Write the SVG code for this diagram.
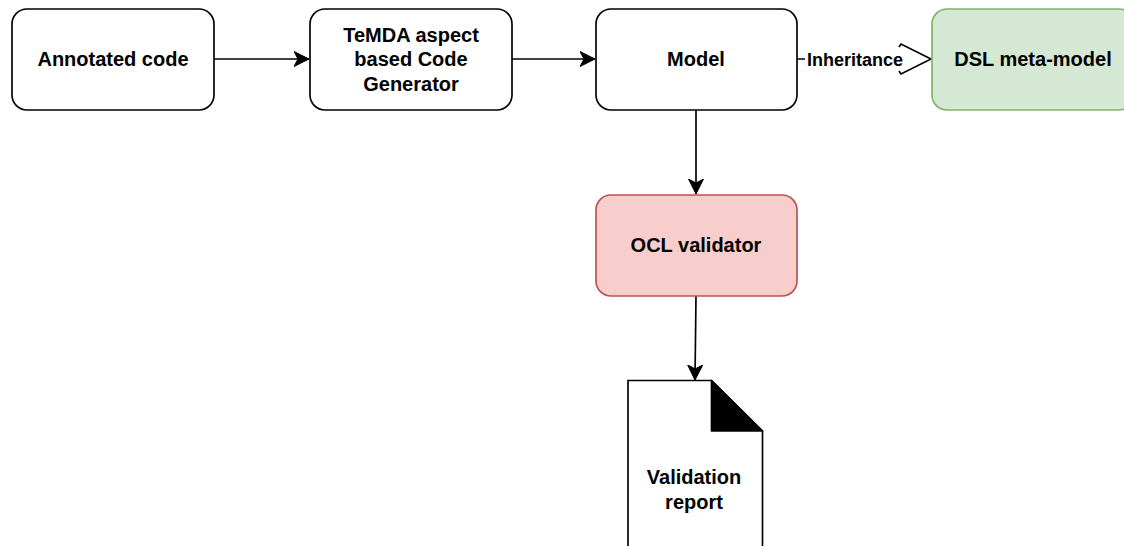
<svg xmlns="http://www.w3.org/2000/svg" width="1124" height="546" viewBox="0 0 1124 546">
  <defs>
    <style>
      .box { fill: #ffffff; stroke: #000000; stroke-width: 1.67; }
      .green { fill: #d5e8d4; stroke: #82b366; }
      .red { fill: #f8cecc; stroke: #b85450; }
      .label { font-family: "Liberation Sans", Arial, sans-serif; font-size: 20px; font-weight: bold; fill: #000000; text-anchor: middle; }
      .edge-label { font-family: "Liberation Sans", Arial, sans-serif; font-size: 18px; font-weight: bold; fill: #000000; text-anchor: middle; }
      .edge { fill: none; stroke: #000000; stroke-width: 1.67; }
    </style>
    <marker id="classic" viewBox="0 0 16 16" refX="15" refY="8" markerWidth="16" markerHeight="16" markerUnits="userSpaceOnUse" orient="auto">
      <path d="M15,8 L0,0.5 L4,8 L0,15.5 Z" fill="#000000" stroke="#000000" stroke-width="1"/>
    </marker>
  </defs>

  <rect width="1124" height="546" fill="#ffffff"/>

  <g id="connectors">
    <line class="edge" x1="214" y1="59" x2="309" y2="59" marker-end="url(#classic)"/>
    <line class="edge" x1="512" y1="59" x2="595" y2="59" marker-end="url(#classic)"/>
    <line class="edge" x1="696" y1="110" x2="696" y2="194" marker-end="url(#classic)"/>
    <line class="edge" x1="696" y1="296" x2="695" y2="380" marker-end="url(#classic)"/>
    <!-- inheritance: plain line with open triangle head, label on white background -->
    <g id="edge-inheritance">
      <line class="edge" x1="797" y1="59" x2="901" y2="59"/>
      <polyline class="edge" points="899,47 901,44 931,59 901,74 899,71"/>
      <rect x="805" y="48" width="97" height="22" fill="#ffffff"/>
      <text class="edge-label" x="855" y="65.5">Inheritance</text>
    </g>
  </g>

  <g id="node-annotated-code">
    <rect class="box" x="12" y="9" width="202" height="101" rx="15" ry="15"/>
    <text class="label" x="113" y="66">Annotated code</text>
  </g>

  <g id="node-generator">
    <rect class="box" x="310" y="9" width="202" height="101" rx="15" ry="15"/>
    <text class="label" x="411" y="42">TeMDA aspect</text>
    <text class="label" x="411" y="66">based Code</text>
    <text class="label" x="411" y="91">Generator</text>
  </g>

  <g id="node-model">
    <rect class="box" x="596" y="9" width="201" height="101" rx="15" ry="15"/>
    <text class="label" x="696" y="66">Model</text>
  </g>

  <g id="node-dsl-meta-model">
    <rect class="box green" x="932" y="9" width="202" height="101" rx="15" ry="15"/>
    <text class="label" x="1033" y="66">DSL meta-model</text>
  </g>

  <g id="node-ocl-validator">
    <rect class="box red" x="596" y="195" width="201" height="101" rx="15" ry="15"/>
    <text class="label" x="696" y="252">OCL validator</text>
  </g>

  <g id="node-validation-report">
    <path class="box" d="M628,380.5 L711.5,380.5 L762.5,431 L762.5,560 L628,560 Z"/>
    <path d="M711.5,380.5 L762.5,431 L711.5,431 Z" fill="#000000" stroke="#000000" stroke-width="1.67" stroke-linejoin="round"/>
    <text class="label" x="694" y="484">Validation</text>
    <text class="label" x="694" y="509">report</text>
  </g>
</svg>
